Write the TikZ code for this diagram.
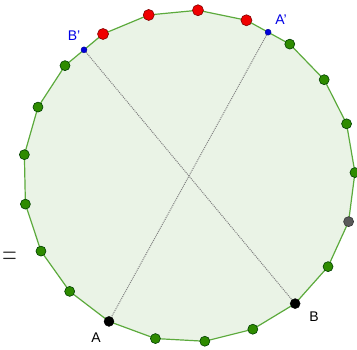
\documentclass[tikz,border=0pt]{standalone}
\usepackage{fontspec}
\setmainfont{Liberation Sans}
\usetikzlibrary{calc}
\definecolor{facegreen}{HTML}{EAF3E6}
\definecolor{edgegreen}{HTML}{5CAA3C}
\definecolor{dotgreen}{HTML}{2E8B00}
\definecolor{dotred}{HTML}{F00000}
\tikzset{
  face/.style={draw=edgegreen, fill=facegreen, line width=1.2pt},
  chord/.style={draw=black!50, densely dotted, line width=1pt},
  ptgreen/.style={circle, draw=black!75!green, fill=dotgreen, line width=0.6pt,
                 inner sep=0pt, minimum size=10pt},
  ptred/.style={circle, draw=red!50!black, fill=dotred, line width=0.6pt,
                 inner sep=0pt, minimum size=11pt},
  ptblack/.style={circle, draw=black, fill=black, inner sep=0pt, minimum size=10pt},
  ptgray/.style={circle, draw=black!80, fill=black!65, line width=0.6pt,
                 inner sep=0pt, minimum size=10pt},
  ptblue/.style={circle, draw=blue!60!black, fill=blue!85!black, inner sep=0pt, minimum size=6pt},
  lbl/.style={font=\fontsize{14}{14}\selectfont, inner sep=0pt},
}

\begin{document}
\begin{tikzpicture}[x=1pt, y=1pt]
    \useasboundingbox (-189,-173) rectangle (168,176);
    % corners of the 21-gon
    \foreach \k in {0,...,20}
      \coordinate (p\k) at ({86.9-360/21*\k}:166);
    \draw[face] (p0) \foreach \k in {1,...,20} {-- (p\k)} -- cycle;
    % midpoints of two sides
    \coordinate (ma) at ($(p1)!0.5!(p2)$);
    \coordinate (mb) at ($(p18)!0.5!(p19)$);
    % chords
    \draw[chord] (p12) -- (ma);
    \draw[chord] (p8) -- (mb);
    % points
    \foreach \k in {2,3,4,5,7,9,10,11,13,14,15,16,17,18}
      \node[ptgreen] (g\k) at (p\k) {};
    \foreach \k in {19,20,0,1}
      \node[ptred] (r\k) at (p\k) {};
    \node[ptgray] (c6) at (p6) {};
    \node[ptblack] (A) at (p12) {};
    \node[ptblack] (B) at (p8) {};
    \node[ptblue] (Ap) at (ma) {};
    \node[ptblue] (Bp) at (mb) {};
    % labels
    \node[lbl] (lA) at (-93,-162) {A};
    \node[lbl] (lB) at (125,-141) {B};
    \node[lbl, text=blue!90!black] (lAp) at (92,156) {A'};
    \node[lbl, text=blue!90!black] (lBp) at (-115,140) {B'};
    \node[font=\fontsize{40}{40}\selectfont, inner sep=0pt, text=black!85,
          anchor=base east] (eq) at (-172,-88.5) {\scalebox{0.8}[1.4]{$=$}};
\end{tikzpicture}
\end{document}
